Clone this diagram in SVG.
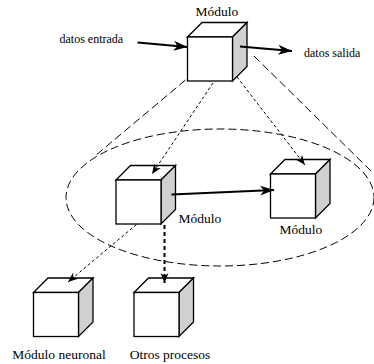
<svg xmlns="http://www.w3.org/2000/svg" xmlns:xlink="http://www.w3.org/1999/xlink" width="374" height="364" viewBox="0 0 374 364">
<style>
.face{fill:#ffffff;stroke:#000;stroke-width:1.3;stroke-linejoin:miter}
.side{fill:#d0d0d0;stroke:#000;stroke-width:1.3;stroke-linejoin:miter}
.lbl{font-family:"Liberation Serif","Times New Roman",serif;font-size:13.5px;fill:#000}
.sm{font-family:"Liberation Serif","Times New Roman",serif;font-size:12px;fill:#000}
.thick{stroke:#000;stroke-width:2;fill:none}
.thin{stroke:#000;stroke-width:1;fill:none;stroke-dasharray:3 2.5}
.vert{stroke:#000;stroke-width:2;fill:none;stroke-dasharray:4 3}
.long{stroke:#000;stroke-width:1;fill:none;stroke-dasharray:8 4}
</style>
<defs>
<g id="cube">
<polygon class="face" points="0,0 14.5,-14.5 59.5,-14.5 45,0"/>
<polygon class="side" points="45,0 59.5,-14.5 59.5,29.5 45,44"/>
<rect class="face" x="0" y="0" width="45" height="44"/>
</g>
<marker id="big" markerUnits="userSpaceOnUse" markerWidth="16" markerHeight="12" refX="14" refY="5" orient="auto" viewBox="0 0 16 10">
<path d="M0,0 L14,5 L0,10 L4,5 z" fill="#000"/>
</marker>
<marker id="sml" markerUnits="userSpaceOnUse" markerWidth="11" markerHeight="9" refX="10" refY="4" orient="auto" viewBox="0 0 11 8">
<path d="M0,0 L10,4 L0,8 L3,4 z" fill="#000"/>
</marker>
</defs>
<g id="ellipse-group">
<ellipse class="long" cx="220" cy="197.5" rx="154" ry="68.5"/>
</g>
<g id="n-top"><use xlink:href="#cube" x="187.5" y="37"/><text class="lbl" x="217" y="15.5" text-anchor="middle">Módulo</text></g>
<g id="n-mid"><use xlink:href="#cube" x="116" y="180"/><text class="lbl" x="200" y="222.5" text-anchor="middle">Módulo</text></g>
<g id="n-right"><use xlink:href="#cube" x="270.5" y="174"/><text class="lbl" x="301" y="234" text-anchor="middle">Módulo</text></g>
<g id="n-neuronal"><use xlink:href="#cube" x="33.5" y="292.5"/><text class="lbl" x="59" y="359" text-anchor="middle">Módulo neuronal</text></g>
<g id="n-otros"><use xlink:href="#cube" x="134" y="292.5"/><text class="lbl" x="170" y="359" text-anchor="middle">Otros procesos</text></g>
<g id="t-in"><text class="sm" x="59.5" y="42.5">datos entrada</text></g>
<g id="t-out"><text class="sm" x="304" y="57">datos salida</text></g>
<g id="connectors">
<line class="long" x1="185.5" y1="80" x2="95" y2="156"/>
<line class="long" x1="254" y1="56" x2="372" y2="172"/>
<line class="thick" x1="137.5" y1="42.5" x2="187.5" y2="47" marker-end="url(#big)"/>
<line class="thick" x1="240" y1="46.5" x2="292" y2="51" marker-end="url(#big)"/>
<line class="thick" x1="171.5" y1="194.5" x2="274" y2="190" marker-end="url(#big)"/>
<line class="thin" x1="213" y1="83" x2="152" y2="174" marker-end="url(#sml)"/>
<line class="thin" x1="237" y1="77" x2="305" y2="165" marker-end="url(#sml)"/>
<line class="thin" x1="136.5" y1="224.5" x2="68" y2="282" marker-end="url(#sml)"/>
<line class="vert" x1="164.5" y1="225" x2="164.5" y2="283" marker-end="url(#sml)"/>
</g>
</svg>
